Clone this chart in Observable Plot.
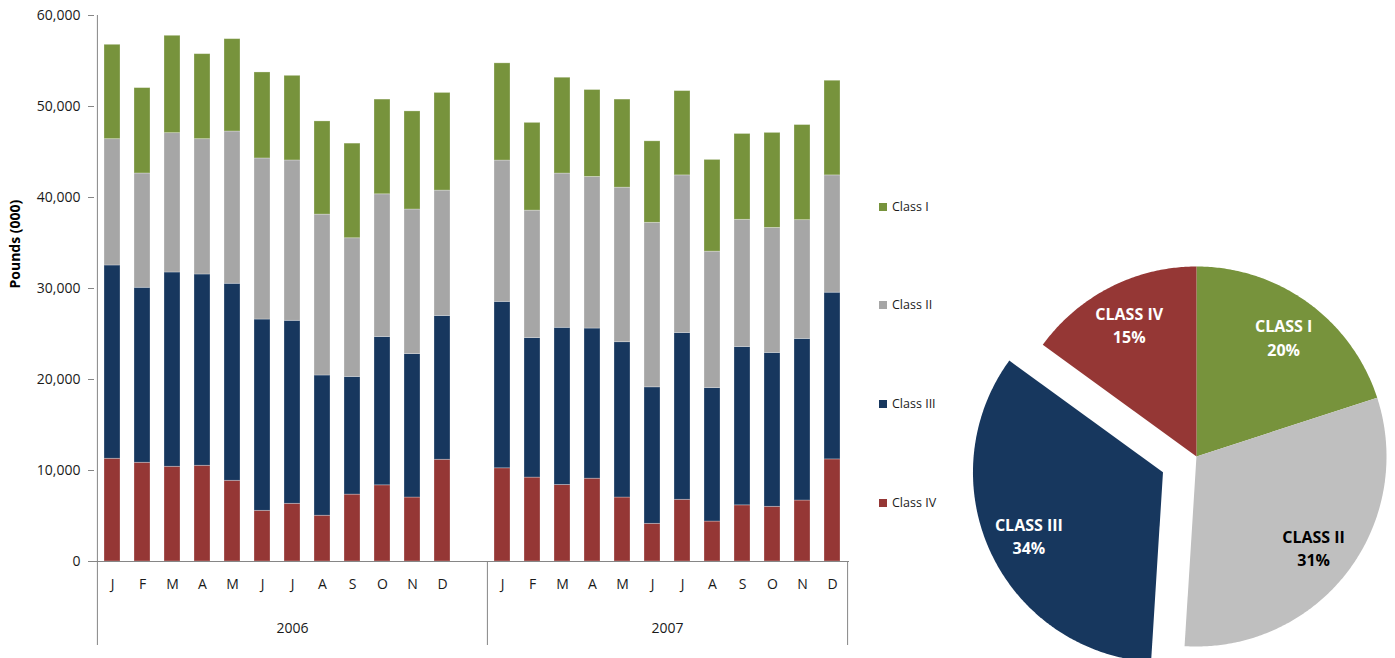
<!DOCTYPE html>
<html><head><meta charset="utf-8">
<script src="https://cdn.jsdelivr.net/npm/d3@7"></script>
<script src="https://cdn.jsdelivr.net/npm/@observablehq/plot@0.6"></script>
<style>
body{margin:0;background:#fff;font-family:"Open Sans",sans-serif;}
#wrap{position:relative;width:1395px;height:658px;overflow:hidden;background:#fff;}
#bars{position:absolute;left:0;top:0;}
#pie{position:absolute;left:960px;top:250px;}
.lg{position:absolute;left:879px;height:14px;line-height:14px;font-size:12.5px;color:#1a1a1a;white-space:nowrap;}
.lg i{display:inline-block;width:8px;height:8px;margin-right:5px;vertical-align:0px;}
</style></head>
<body><div id="wrap"><div id="bars"></div><div id="legend"></div><div id="pie"></div></div>
<script>
// ---------- data ----------
const months = ["J","F","M","A","M","J","J","A","S","O","N","D"];
const years = ["2006","2007"];
const classes = ["Class I","Class II","Class III","Class IV"];
const classColors = ["#77933C","#A6A6A6","#17375E","#953735"];
const yTicks = [0,10000,20000,30000,40000,50000,60000];

const classI2006   = [10370, 9380,10700, 9340,10150, 9450, 9300,10240,10400,10410,10780,10730];
const classII2006  = [13880,12560,15310,14870,16730,17700,17620,17680,15240,15680,15890,13780];
const classIII2006 = [21240,19230,21350,21020,21650,21020,20110,15410,12930,16300,15760,15800];
const classIV2006  = [11290,10850,10410,10520, 8870, 5570, 6340, 5030, 7350, 8370, 7030,11180];

const classI2007   = [10680, 9640,10530, 9550, 9680, 8950, 9260,10080, 9430,10440,10450,10400];
const classII2007  = [15530,14010,16950,16660,16980,18080,17320,14990,13980,13740,13050,12890];
const classIII2007 = [18290,15330,17270,16500,17070,15000,18330,14670,17400,16910,17760,18320];
const classIV2007  = [10240, 9220, 8410, 9100, 7030, 4140, 6780, 4390, 6170, 6010, 6700,11220];

const pieLabels = ["CLASS I","CLASS II","CLASS III","CLASS IV"];
const pieShares = [20,31,34,15];
const pieColors = ["#77933C","#BFBFBF","#17375E","#953735"];
const pieTextColors = ["white","black","white","white"];

// ---------- bar table ----------
const series = {
  "Class I":   [classI2006, classI2007],
  "Class II":  [classII2006, classII2007],
  "Class III": [classIII2006, classIII2007],
  "Class IV":  [classIV2006, classIV2007]
};
const stackOrder = ["Class IV","Class III","Class II","Class I"];
const rows = [];
const monthSlots = [];
years.forEach((yr, yi) => months.forEach((m, mi) => {
  const slot = `${yr}-${mi}`;
  monthSlots.push({slot, month: m});
  stackOrder.forEach(c => rows.push({slot, cls: c, value: series[c][yi][mi]}));
}));
const domain = [
  ...months.map((m, i) => `2006-${i}`), "2006-gap",
  ...months.map((m, i) => `2007-${i}`)
];

const W = 960, H = 658, mL = 94, mR = 111, mT = 15, mB = 97;
const step = (W - mL - mR) / domain.length;
const axisGray = "#868686";
const font = "'Open Sans', sans-serif";

const bars = Plot.plot({
  width: W, height: H,
  marginLeft: mL, marginRight: mR, marginTop: mT, marginBottom: mB,
  style: {fontFamily: font, background: "white", color: "#1a1a1a"},
  x: {type: "band", domain, paddingInner: 0.47, paddingOuter: 0.235, axis: null},
  y: {domain: [0, 60000]},
  color: {domain: classes, range: classColors},
  marks: [
    Plot.barY(rows, {x: "slot", y: "value", fill: "cls", stroke: "white", strokeOpacity: 0.35, strokeWidth: 0.8}),
    Plot.axisY({ticks: yTicks, tickFormat: d3.format(","), tickSize: 6, tickPadding: 8, fontSize: 14, stroke: axisGray, fill: "#1a1a1a", label: null}),
    Plot.ruleX([domain[0]], {dx: -step / 2, stroke: axisGray, insetBottom: -84}),
    Plot.ruleX([domain[13]], {dx: -step / 2, stroke: axisGray, insetTop: H - mT - mB, insetBottom: -84}),
    Plot.ruleX([domain[24]], {dx: step / 2, stroke: axisGray, insetTop: H - mT - mB, insetBottom: -84}),
    Plot.ruleY([0], {stroke: axisGray, insetLeft: -6}),
    Plot.text(monthSlots, {x: "slot", text: "month", frameAnchor: "bottom", dy: 27, fontSize: 14, fill: "#1a1a1a"}),
    Plot.text([years[0]], {x: () => "2006-6", text: d => d, frameAnchor: "bottom", dy: 71, fontSize: 14, fill: "#1a1a1a"}),
    Plot.text([years[1]], {x: () => "2007-5", text: d => d, frameAnchor: "bottom", dx: step / 2, dy: 71, fontSize: 14, fill: "#1a1a1a"}),
    Plot.text(["Pounds (000)"], {frameAnchor: "left", dx: -79, rotate: -90, fontWeight: "bold", fontSize: 14, fill: "#000"})
  ]
});
document.getElementById("bars").appendChild(bars);

// ---------- legend ----------
const legendY = [207, 305, 404, 503];
const lg = document.getElementById("legend");
classes.forEach((c, i) => {
  const d = document.createElement("div");
  d.className = "lg";
  d.style.top = (legendY[i] - 7) + "px";
  d.innerHTML = `<i style="background:${classColors[i]}"></i>${c}`;
  lg.appendChild(d);
});

// ---------- pie ----------
const PW = 435, PH = 408, R = 190, pcx = 236, pcy = 206, explode = 0.195, labelR = 0.78;
const total = d3.sum(pieShares);
let acc = 0;
const slices = pieShares.map((s, i) => {
  const a0 = acc / total * 2 * Math.PI; acc += s;
  const a1 = acc / total * 2 * Math.PI;
  const mid = (a0 + a1) / 2;
  const off = i === 2 ? explode : 0;
  return {i, label: pieLabels[i], share: s, color: pieColors[i], textColor: pieTextColors[i],
          a0, a1, mid, cx: off * Math.sin(mid), cy: off * Math.cos(mid)};
});
const piePts = [];
slices.forEach(sl => {
  piePts.push({slice: sl.i, x: sl.cx, y: sl.cy, color: sl.color});
  const n = Math.max(8, Math.ceil((sl.a1 - sl.a0) / 0.01));
  for (let k = 0; k <= n; k++) {
    const a = sl.a0 + (sl.a1 - sl.a0) * k / n;
    piePts.push({slice: sl.i, x: sl.cx + Math.sin(a), y: sl.cy + Math.cos(a), color: sl.color});
  }
  piePts.push({slice: sl.i, x: sl.cx, y: sl.cy, color: sl.color});
});

const pie = Plot.plot({
  width: PW, height: PH, margin: 0,
  style: {fontFamily: font, background: "transparent"},
  x: {domain: [-pcx / R, (PW - pcx) / R], axis: null},
  y: {domain: [-(PH - pcy) / R, pcy / R], axis: null},
  color: {type: "identity"},
  marks: [
    Plot.line(piePts, {x: "x", y: "y", z: "slice", fill: "color", stroke: "none"}),
    Plot.text(slices, {
      x: d => d.cx + labelR * Math.sin(d.mid),
      y: d => d.cy + labelR * Math.cos(d.mid),
      text: d => `${d.label}\n${d.share}%`,
      fill: "textColor", fontWeight: "bold", fontSize: 16, lineHeight: 1.45
    })
  ]
});
document.getElementById("pie").appendChild(pie);
</script>
</body></html>
